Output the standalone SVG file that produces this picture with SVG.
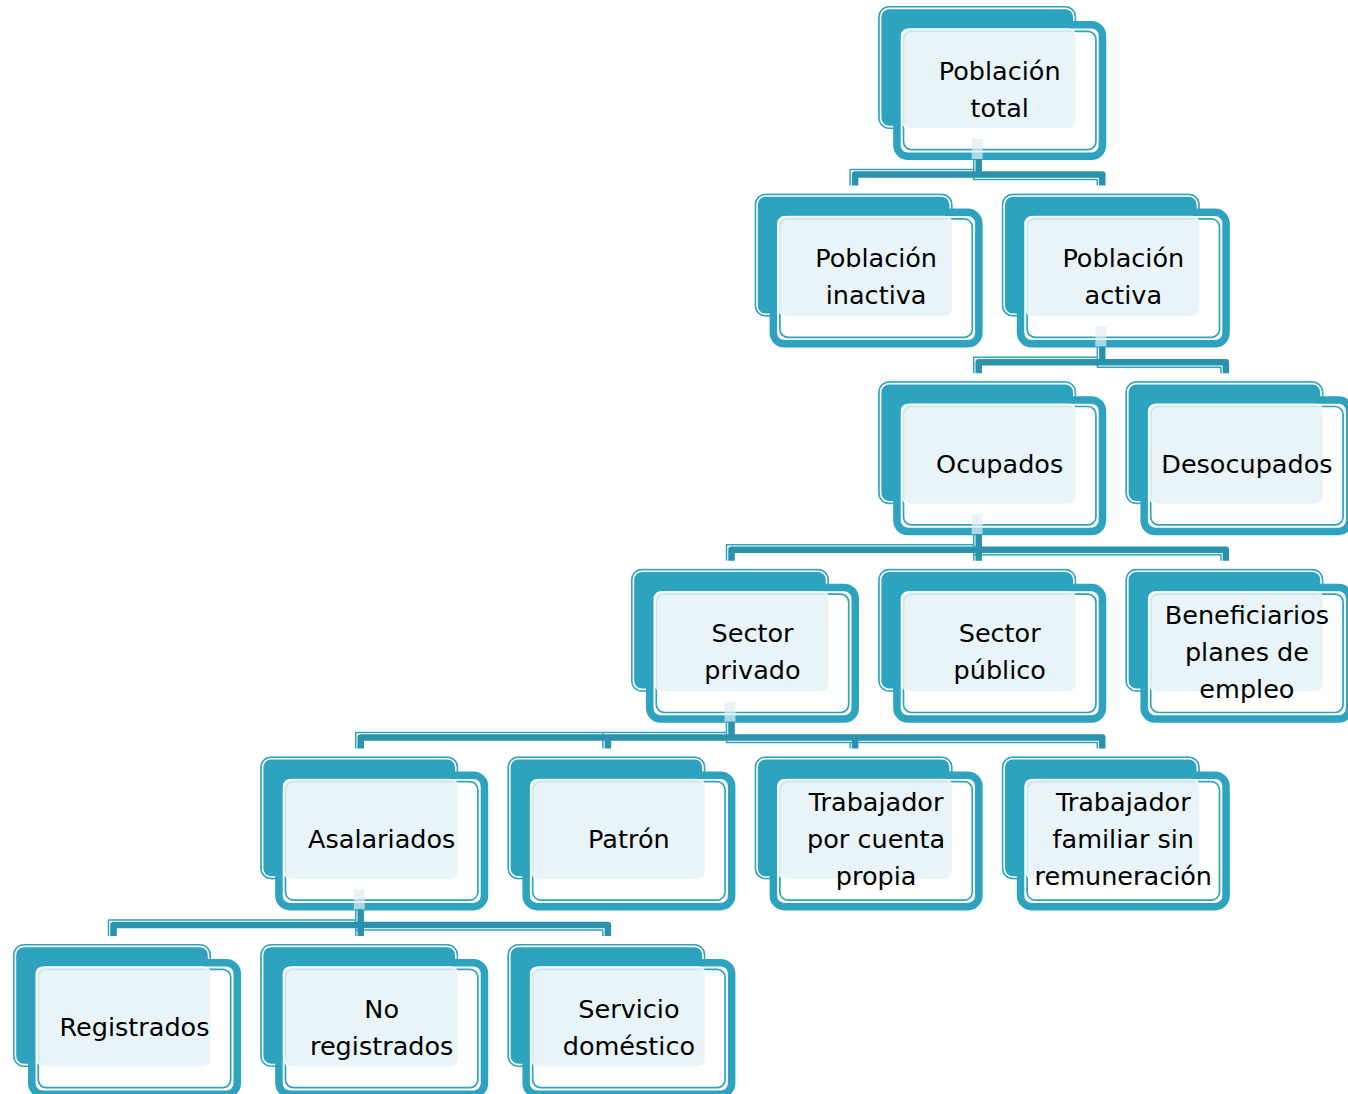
<svg xmlns="http://www.w3.org/2000/svg" xmlns:xlink="http://www.w3.org/1999/xlink" width="1348" height="1094" viewBox="0 0 1348 1094">
<style>
.lbl{font-family:"DejaVu Sans","Noto Sans",sans-serif;font-size:25.5px;fill:#000;text-anchor:middle}
.thick{fill:none;stroke:#2A92AB;stroke-width:6.5;stroke-linejoin:round}
.thin{fill:none;stroke:#2FA3C0;stroke-width:1.5;stroke-linejoin:round}
.strip{fill:#DDEEF3;fill-opacity:0.7}
</style>
<defs>
<g id="nodeShape">
<rect x="0.5" y="0.5" width="197" height="122" rx="10" fill="#2DA3BF" stroke="#2DA3BF" stroke-width="1"/>
<rect x="2.4" y="2.4" width="193.2" height="118.2" rx="8.5" fill="none" stroke="#ffffff" stroke-width="1.6"/>
<rect x="18.75" y="18.75" width="205.5" height="131.5" rx="11" fill="#ffffff" stroke="#2DA3BF" stroke-width="7.5"/>
<rect x="25.3" y="25.3" width="192.4" height="118.4" rx="8" fill="none" stroke="#2DA3BF" stroke-width="1.7"/>
<rect x="24" y="23" width="174" height="100" rx="8" fill="#E4F2F7" fill-opacity="0.85" stroke="#ffffff" stroke-width="1.5" stroke-opacity="0.8"/>
</g>
</defs>
<rect width="1348" height="1094" fill="#ffffff"/>

<g id="n-total" transform="translate(878.2,6)"><use xlink:href="#nodeShape"/><text class="lbl" x="121.5" y="73.5">Población</text><text class="lbl" x="121.5" y="110.5">total</text></g>
<g id="n-inactiva" transform="translate(754.6,193.6)"><use xlink:href="#nodeShape"/><text class="lbl" x="121.5" y="73.5">Población</text><text class="lbl" x="121.5" y="110.5">inactiva</text></g>
<g id="n-activa" transform="translate(1001.8,193.6)"><use xlink:href="#nodeShape"/><text class="lbl" x="121.5" y="73.5">Población</text><text class="lbl" x="121.5" y="110.5">activa</text></g>
<g id="n-ocupados" transform="translate(878.2,381.2)"><use xlink:href="#nodeShape"/><text class="lbl" x="121.5" y="92">Ocupados</text></g>
<g id="n-desocupados" transform="translate(1125.4,381.2)"><use xlink:href="#nodeShape"/><text class="lbl" x="121.5" y="92">Desocupados</text></g>
<g id="n-privado" transform="translate(631,568.8)"><use xlink:href="#nodeShape"/><text class="lbl" x="121.5" y="73.5">Sector</text><text class="lbl" x="121.5" y="110.5">privado</text></g>
<g id="n-publico" transform="translate(878.2,568.8)"><use xlink:href="#nodeShape"/><text class="lbl" x="121.5" y="73.5">Sector</text><text class="lbl" x="121.5" y="110.5">público</text></g>
<g id="n-beneficiarios" transform="translate(1125.4,568.8)"><use xlink:href="#nodeShape"/><text class="lbl" x="121.5" y="55">Beneficiarios</text><text class="lbl" x="121.5" y="92">planes de</text><text class="lbl" x="121.5" y="129">empleo</text></g>
<g id="n-asalariados" transform="translate(260.2,756.4)"><use xlink:href="#nodeShape"/><text class="lbl" x="121.5" y="92">Asalariados</text></g>
<g id="n-patron" transform="translate(507.4,756.4)"><use xlink:href="#nodeShape"/><text class="lbl" x="121.5" y="92">Patrón</text></g>
<g id="n-cuentapropia" transform="translate(754.6,756.4)"><use xlink:href="#nodeShape"/><text class="lbl" x="121.5" y="55">Trabajador</text><text class="lbl" x="121.5" y="92">por cuenta</text><text class="lbl" x="121.5" y="129">propia</text></g>
<g id="n-familiar" transform="translate(1001.8,756.4)"><use xlink:href="#nodeShape"/><text class="lbl" x="121.5" y="55">Trabajador</text><text class="lbl" x="121.5" y="92">familiar sin</text><text class="lbl" x="121.5" y="129">remuneración</text></g>
<g id="n-registrados" transform="translate(13,944)"><use xlink:href="#nodeShape"/><text class="lbl" x="121.5" y="92">Registrados</text></g>
<g id="n-noregistrados" transform="translate(260.2,944)"><use xlink:href="#nodeShape"/><text class="lbl" x="121.5" y="73.5">No</text><text class="lbl" x="121.5" y="110.5">registrados</text></g>
<g id="n-servicio" transform="translate(507.4,944)"><use xlink:href="#nodeShape"/><text class="lbl" x="121.5" y="73.5">Servicio</text><text class="lbl" x="121.5" y="110.5">doméstico</text></g>

<g id="connectors">
<rect class="strip" x="971.7" y="139" width="11" height="20"/>
<rect class="strip" x="1095.3" y="326.6" width="11" height="20"/>
<rect class="strip" x="971.7" y="514.2" width="11" height="20"/>
<rect class="strip" x="724.5" y="701.8" width="11" height="20"/>
<rect class="strip" x="353.7" y="889.4" width="11" height="20"/>

<path class="thin" d="M973.7 159 V169.6 H850.1 V185.6 M973.7 159 V179.6 H1097.3 V185.6"/>
<path class="thick" d="M978.7 159 V174.6 H855.1 V185.6 M978.7 159 V174.6 H1102.3 V185.6"/>

<path class="thin" d="M1097.3 346.6 V357.2 H973.7 V373.2 M1097.3 346.6 V367.2 H1220.9 V373.2"/>
<path class="thick" d="M1102.3 346.6 V362.2 H978.7 V373.2 M1102.3 346.6 V362.2 H1225.9 V373.2"/>

<path class="thin" d="M973.7 534.2 V544.8 H726.5 V560.8 M973.7 534.2 V560.8 M973.7 534.2 V554.8 H1220.9 V560.8"/>
<path class="thick" d="M978.7 534.2 V549.8 H731.5 V560.8 M978.7 534.2 V560.8 M978.7 534.2 V549.8 H1225.9 V560.8"/>

<path class="thin" d="M726.5 721.8 V732.4 H355.7 V748.4 M726.5 721.8 V732.4 H602.9 V748.4 M726.5 721.8 V742.4 H850.1 V748.4 M726.5 721.8 V742.4 H1097.3 V748.4"/>
<path class="thick" d="M731.5 721.8 V737.4 H360.7 V748.4 M731.5 721.8 V737.4 H607.9 V748.4 M731.5 721.8 V737.4 H855.1 V748.4 M731.5 721.8 V737.4 H1102.3 V748.4"/>

<path class="thin" d="M355.7 909.4 V920 H108.5 V936 M355.7 909.4 V936 M355.7 909.4 V930 H602.9 V936"/>
<path class="thick" d="M360.7 909.4 V925 H113.5 V936 M360.7 909.4 V936 M360.7 909.4 V925 H607.9 V936"/>
</g>
</svg>
